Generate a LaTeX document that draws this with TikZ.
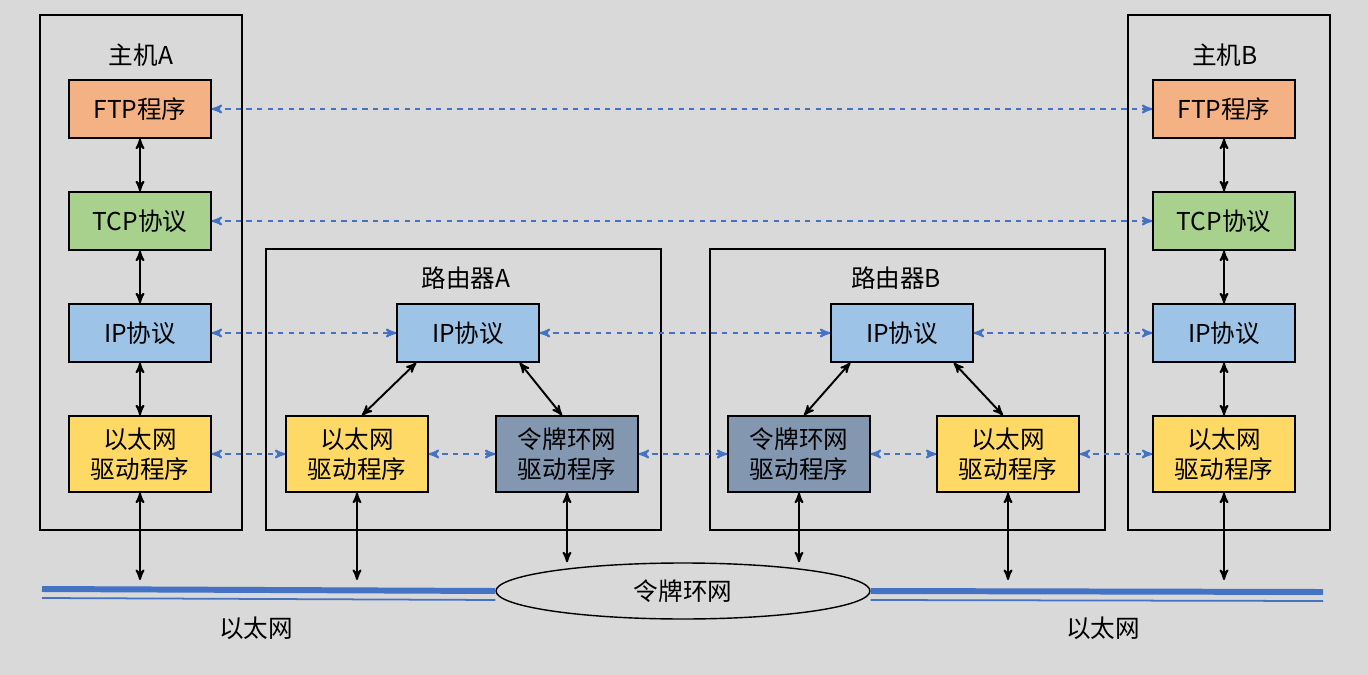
\documentclass[tikz,border=0pt]{standalone}
\usepackage{fontspec}
\setmainfont{Noto Sans CJK SC}
\usetikzlibrary{arrows,shapes}
\definecolor{bg}{HTML}{D9D9D9}
\definecolor{ftpc}{HTML}{F4B183}
\definecolor{tcpc}{HTML}{A9D18E}
\definecolor{ipc}{HTML}{9DC3E6}
\definecolor{ethc}{HTML}{FFD966}
\definecolor{tokc}{HTML}{8497B0}
\definecolor{linkc}{HTML}{4472C4}
\tikzset{
  layer/.style={draw, thick, minimum width=2.84cm, minimum height=1.16cm, align=center, inner sep=1pt, font=\fontsize{14}{17}\selectfont},
  drv/.style={layer, minimum height=1.52cm},
  frame/.style={draw, thick},
  peer/.style={<->, >=stealth', dashed, linkc, line width=1.1pt},
  stack/.style={<->, >=stealth', line width=1.1pt},
  title/.style={font=\fontsize{14}{17}\selectfont}
}
\begin{document}
\begin{tikzpicture}[x=0.02cm, y=-0.02cm]
\fill[bg] (0,0) rectangle (1368,675);
% frames
\draw[frame] (40,15) rectangle (242,530);
\draw[frame] (1128,15) rectangle (1330,530);
\draw[frame] (266,249) rectangle (661,530);
\draw[frame] (710,249) rectangle (1105,530);
\node[title] (hA) at (141,55) {主机A};
\node[title] (hB) at (1225,55) {主机B};
\node[title] (rA) at (466,278) {路由器A};
\node[title] (rB) at (896,278) {路由器B};
% host A
\node[layer, fill=ftpc] (ftpA) at (140,109) {FTP程序};
\node[layer, fill=tcpc] (tcpA) at (140,221) {TCP协议};
\node[layer, fill=ipc] (ipA) at (140,333) {IP协议};
\node[drv, fill=ethc] (ethA) at (140,454) {以太网\\驱动程序};
% host B
\node[layer, fill=ftpc] (ftpB) at (1224,109) {FTP程序};
\node[layer, fill=tcpc] (tcpB) at (1224,221) {TCP协议};
\node[layer, fill=ipc] (ipB) at (1224,333) {IP协议};
\node[drv, fill=ethc] (ethB) at (1224,454) {以太网\\驱动程序};
% router A
\node[layer, fill=ipc] (ipRA) at (468,333) {IP协议};
\node[drv, fill=ethc] (ethRA) at (357,454) {以太网\\驱动程序};
\node[drv, fill=tokc] (tokRA) at (567,454) {令牌环网\\驱动程序};
% router B
\node[layer, fill=ipc] (ipRB) at (902,333) {IP协议};
\node[drv, fill=tokc] (tokRB) at (799,454) {令牌环网\\驱动程序};
\node[drv, fill=ethc] (ethRB) at (1008,454) {以太网\\驱动程序};
% networks
\node[ellipse, draw, thick, fill=bg, minimum width=7.48cm, minimum height=1.12cm, title] (ring) at (683,591) {令牌环网};
\coordinate (eL0) at (42,589);
\coordinate (eL1) at (ring.west);
\coordinate (eR0) at (ring.east);
\coordinate (eR1) at (1323,592);
\draw[linkc, line width=3.4pt] (eL0) -- (eL1);
\draw[linkc, line width=1pt] ([yshift=-0.18cm]eL0) -- ([yshift=-0.18cm]eL1);
\draw[linkc, line width=3.4pt] (eR0) -- (eR1);
\draw[linkc, line width=1pt] ([yshift=-0.18cm]eR0) -- ([yshift=-0.18cm]eR1);
\node[title] (netL) at (256,628) {以太网};
\node[title] (netR) at (1103,628) {以太网};
% vertical links
\draw[stack] (ftpA) -- (tcpA);
\draw[stack] (tcpA) -- (ipA);
\draw[stack] (ipA) -- (ethA);
\draw[stack] (ftpB) -- (tcpB);
\draw[stack] (tcpB) -- (ipB);
\draw[stack] (ipB) -- (ethB);
\draw[stack] ([xshift=0.4cm]ipRA.south west) -- ([xshift=0.1cm]ethRA.north);
\draw[stack] ([xshift=-0.4cm]ipRA.south east) -- ([xshift=-0.1cm]tokRA.north);
\draw[stack] ([xshift=0.4cm]ipRB.south west) -- ([xshift=0.1cm]tokRB.north);
\draw[stack] ([xshift=-0.4cm]ipRB.south east) -- ([xshift=-0.1cm]ethRB.north);
\coordinate (dA) at (140,580);
\coordinate (dRA) at (357,580);
\coordinate (dB) at (1224,580);
\coordinate (dRB) at (1008,580);
\draw[stack] (ethA) -- (dA);
\draw[stack] (ethRA) -- (dRA);
\draw[stack] (ethB) -- (dB);
\draw[stack] (ethRB) -- (dRB);
\draw[stack] (tokRA.south) -- (tokRA.south |- ring.north);
\draw[stack] (tokRB.south) -- (tokRB.south |- ring.north);
% peer links
\draw[peer] (ftpA) -- (ftpB);
\draw[peer] (tcpA) -- (tcpB);
\draw[peer] (ipA) -- (ipRA);
\draw[peer] (ipRA) -- (ipRB);
\draw[peer] (ipRB) -- (ipB);
\draw[peer] (ethA) -- (ethRA);
\draw[peer] (ethRA) -- (tokRA);
\draw[peer] (tokRA) -- (tokRB);
\draw[peer] (tokRB) -- (ethRB);
\draw[peer] (ethRB) -- (ethB);
\end{tikzpicture}
\end{document}
